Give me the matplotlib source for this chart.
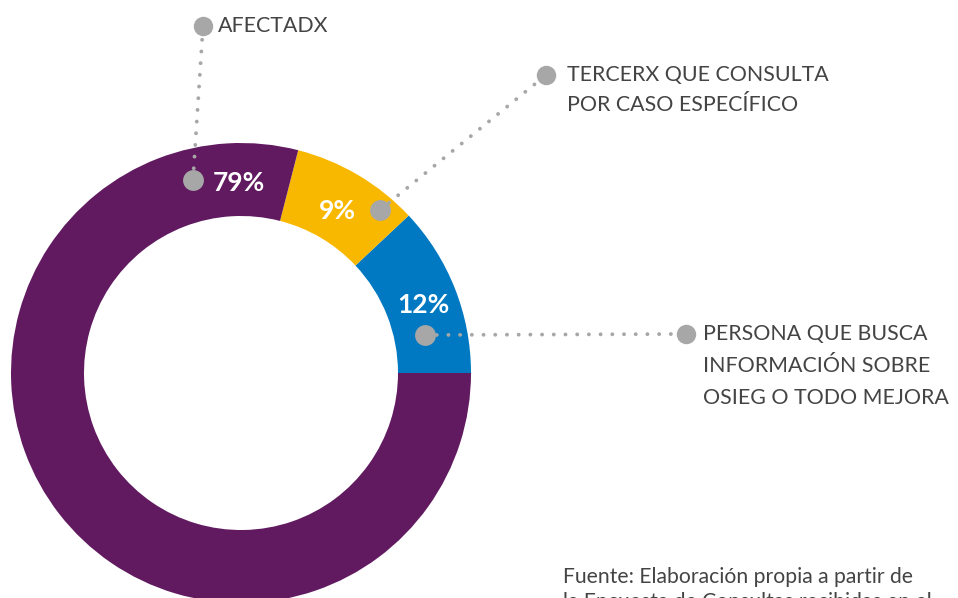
import matplotlib
matplotlib.use("Agg")
import matplotlib.pyplot as plt

categories = ["PERSONA QUE BUSCA\nINFORMACIÓN SOBRE\nOSIEG O TODO MEJORA",
              "TERCERX QUE CONSULTA\nPOR CASO ESPECÍFICO",
              "AFECTADX"]
values = [12, 9, 79]
pct_labels = ["12%", "9%", "79%"]
colors = ["#0079C2", "#F9B800", "#611A60"]
source = "Fuente: Elaboración propia a partir de\nla Encuesta de Consultas recibidas en el"

W, H = 958, 598
fig = plt.figure(figsize=(W / 100, H / 100), dpi=100)
ax = fig.add_axes([0, 0, 1, 1])

def P(x, y):
    return (x, H - y)

cx, cy = P(241, 373)
R = 230
ring = 73
ax.pie(values, colors=colors, startangle=0, counterclock=True,
       center=(cx, cy), radius=R,
       wedgeprops=dict(width=ring, linewidth=0))
ax.set_xlim(0, W)
ax.set_ylim(0, H)
ax.set_aspect("equal")
ax.axis("off")

gray = "#A7A7A7"
txt = "#444444"
font = "Lato"

# (inner dot, pct text pos, outer dot, label pos, line step)
layout = [
    (P(425, 335), P(423, 305), P(686, 334), P(703, 334), 32),
    (P(380, 210), P(337, 211), P(546, 75), P(567, 75), 30),
    (P(193, 180), P(239, 183), P(203, 26), P(218, 26), 30),
]

for (idot, ptxt, odot, lpos, step), lab, pl in zip(layout, categories, pct_labels):
    ax.plot([idot[0], odot[0]], [idot[1], odot[1]], color=gray, lw=2.8,
            linestyle=(0, (0.01, 3.0)), dash_capstyle="round", zorder=3)
    ax.plot(*idot, "o", ms=15, color=gray, mec="none", zorder=4)
    ax.plot(*odot, "o", ms=14, color=gray, mec="none", zorder=4)
    ax.text(ptxt[0], ptxt[1], pl, color="white", fontsize=19, fontweight="bold",
            family=font, ha="center", va="center", zorder=5)
    for i, line in enumerate(lab.split("\n")):
        ax.text(lpos[0], lpos[1] - i * step, line, color=txt, fontsize=15.4,
                family=font, ha="left", va="center", zorder=5)

for i, line in enumerate(source.split("\n")):
    ax.text(563, H - 577 - i * 25, line, color=txt, fontsize=15.2, family=font,
            ha="left", va="center")

fig.savefig("out.png", dpi=100)
